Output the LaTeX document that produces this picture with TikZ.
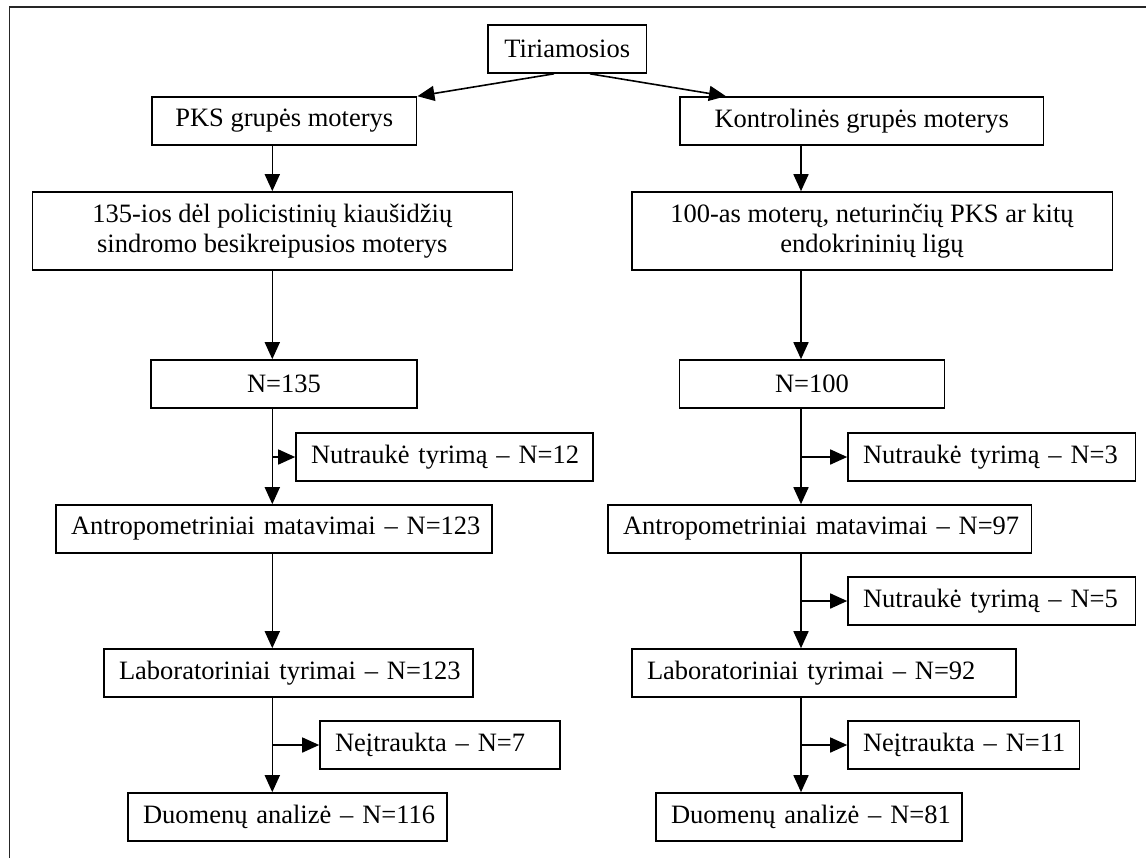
\documentclass[tikz,border=0pt]{standalone}
\usepackage{fontspec}
\setmainfont{Liberation Serif}
\usetikzlibrary{arrows.meta}
\tikzset{
  bx/.style={draw, line width=0.8pt, minimum height=24pt, inner ysep=0pt,
    font=\fontsize{13.25pt}{15.2pt}\selectfont},
  cbox/.style={bx, align=center, inner xsep=2pt},
  lbox/.style={bx, align=left, inner xsep=7.5pt},
  arr/.style={-{Triangle[length=8.5pt,width=7.5pt]}, line width=0.8pt},
  frame/.style={line width=0.8pt, black!85}
}
\begin{document}
\begin{tikzpicture}[x=0.5pt,y=-0.5pt]
\useasboundingbox (0,0) rectangle (1146,858);
\draw[frame] (9.5,858) -- (9.5,7) -- (1146,7);

\node[cbox, minimum width=79.35pt] (T) at (567.3,49) {Tiriamosios};
\node[cbox, minimum width=132.35pt] (PKS) at (284.3,121) {PKS grupės moterys};
\node[cbox, minimum width=181.65pt] (K) at (861.7,121) {Kontrolinės grupės moterys};
\node[cbox, minimum width=240pt, minimum height=39pt] (L1) at (272.3,231) {135-ios dėl policistinių kiaušidžių\\sindromo besikreipusios moterys};
\node[cbox, minimum width=240.3pt, minimum height=39pt] (R1) at (872,231) {100-as moterų, neturinčių PKS ar kitų\\endokrininių ligų};
\node[cbox, minimum width=133pt] (N135) at (284,384) {N=135};
\node[cbox, minimum width=132.65pt] (N100) at (812,384) {N=100};
\node[lbox, text width=133.5pt] (Nu12) at (444.5,457) {\mbox{Nutraukė tyrimą – N=12}};
\node[lbox, text width=128.75pt] (Nu3) at (991.75,457) {\mbox{Nutraukė tyrimą – N=3}};
\node[lbox, text width=203pt] (A123) at (274,529) {\mbox{Antropometriniai matavimai – N=123}};
\node[lbox, text width=196.65pt] (A97) at (819.65,529) {\mbox{Antropometriniai matavimai – N=97}};
\node[lbox, text width=128.75pt] (Nu5) at (991.75,601) {\mbox{Nutraukė tyrimą – N=5}};
\node[lbox, text width=169.5pt] (L123) at (288.5,673) {\mbox{Laboratoriniai tyrimai – N=123}};
\node[lbox, text width=177pt] (L92) at (824,673) {\mbox{Laboratoriniai tyrimai – N=92}};
\node[lbox, text width=105pt] (Ne7) at (440,745) {\mbox{Neįtraukta – N=7}};
\node[lbox, text width=100.8pt] (Ne11) at (963.8,745) {\mbox{Neįtraukta – N=11}};
\node[lbox, text width=144.5pt] (D116) at (287.5,817) {\mbox{Duomenų analizė – N=116}};
\node[lbox, text width=138pt] (D81) at (809,817) {\mbox{Duomenų analizė – N=81}};

\coordinate (xl) at (272.3,0);
\coordinate (xr) at (801,0);

\draw[arr] ([xshift=-6.65pt]T.south) -- (PKS.north east);
\draw[arr] ([xshift=11.35pt]T.south) -- ([xshift=23.35pt]K.north west);

\draw[arr] (PKS.south -| xl) -- (L1.north -| xl);
\draw[arr] (L1.south -| xl) -- (N135.north -| xl);
\draw[arr] (N135.south -| xl) -- (A123.north -| xl);
\draw[arr] (Nu12.west -| xl) -- (Nu12.west);
\draw[arr] (A123.south -| xl) -- (L123.north -| xl);
\draw[arr] (L123.south -| xl) -- (D116.north -| xl);
\draw[arr] (Ne7.west -| xl) -- (Ne7.west);

\draw[arr] (K.south -| xr) -- (R1.north -| xr);
\draw[arr] (R1.south -| xr) -- (N100.north -| xr);
\draw[arr] (N100.south -| xr) -- (A97.north -| xr);
\draw[arr] (Nu3.west -| xr) -- (Nu3.west);
\draw[arr] (A97.south -| xr) -- (L92.north -| xr);
\draw[arr] (Nu5.west -| xr) -- (Nu5.west);
\draw[arr] (L92.south -| xr) -- (D81.north -| xr);
\draw[arr] (Ne11.west -| xr) -- (Ne11.west);
\end{tikzpicture}
\end{document}
